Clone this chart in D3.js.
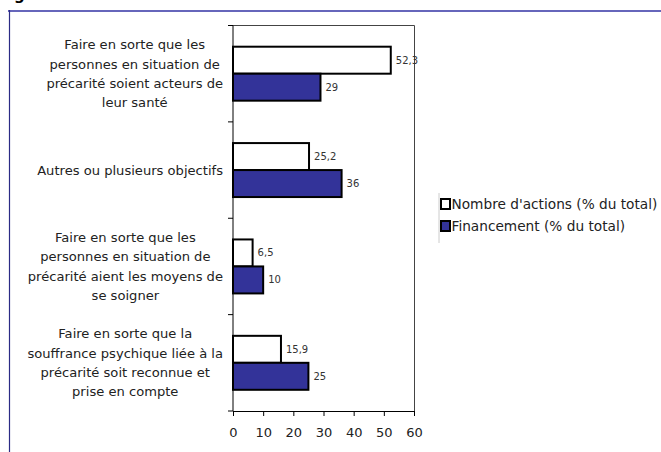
<!DOCTYPE html>
<html>
<head>
<meta charset="utf-8">
<script src="https://cdn.jsdelivr.net/npm/d3@7"></script>
<style>
  body { margin: 0; background: #fff; }
  svg { display: block; font-family: "DejaVu Sans", sans-serif; }
</style>
</head>
<body>
<svg id="chart" width="661" height="452"></svg>
<script>
// categories, top to bottom (label lines as wrapped in the original)
var categories = [
  ["Faire en sorte que les", "personnes en situation de", "précarité soient acteurs de", "leur santé"],
  ["Autres ou plusieurs objectifs"],
  ["Faire en sorte que les", "personnes en situation de", "précarité aient les moyens de", "se soigner"],
  ["Faire en sorte que la", "souffrance psychique liée à la", "précarité soit reconnue et", "prise en compte"]
];
var series = ["Nombre d'actions (% du total)", "Financement (% du total)"];
var actions = [52.3, 25.2, 6.5, 15.9];
var financement = [29, 36, 10, 25];
var xTicks = [0, 10, 20, 30, 40, 50, 60];

var colors = ["#ffffff", "#333399"];

var svg = d3.select("#chart");

// plot area edges (window.top is read-only, so no "top" here)
var plotL = 233, plotR = 414, plotT = 25.5, plotB = 411;

var x = d3.scaleLinear().domain([0, 60]).range([plotL, plotR]);
var y0 = d3.scaleBand().domain(d3.range(categories.length))
    .range([plotT, plotB]).paddingInner(0.44).paddingOuter(0.22);
var y1 = d3.scaleBand().domain(d3.range(series.length)).range([0, y0.bandwidth()]);

var fmt = function(v) { return String(v).replace(".", ","); };

// outer frame (cut from a larger page)
svg.append("text").attr("x", 14).attr("y", 0).attr("font-weight", "bold")
  .attr("font-size", 15).attr("fill", "#000").text("g");
svg.append("line").attr("x1", 8).attr("x2", 661).attr("y1", 11).attr("y2", 11)
  .attr("stroke", "#6666bb").attr("stroke-width", 2);
svg.append("line").attr("x1", 9.5).attr("x2", 9.5).attr("y1", 10).attr("y2", 452)
  .attr("stroke", "#2b2b85").attr("stroke-width", 1.2);

// plot frame
svg.append("path")
  .attr("d", "M" + plotL + "," + plotT + "H" + (plotR + 0.5) + "V" + plotB)
  .attr("fill", "none").attr("stroke", "#444").attr("stroke-width", 1);

// bars
var data = categories.map(function(c, i) { return [actions[i], financement[i]]; });
var g = svg.append("g").selectAll("g").data(data).enter().append("g")
  .attr("transform", function(d, i) { return "translate(0," + y0(i) + ")"; });

g.selectAll("rect").data(function(d) { return d; }).enter().append("rect")
  .attr("x", x(0))
  .attr("y", function(d, j) { return y1(j); })
  .attr("width", function(d) { return x(d) - x(0); })
  .attr("height", y1.bandwidth())
  .attr("fill", function(d, j) { return colors[j]; })
  .attr("stroke", "#000").attr("stroke-width", 2);

g.selectAll("text").data(function(d) { return d; }).enter().append("text")
  .attr("x", function(d) { return x(d) + 5; })
  .attr("y", function(d, j) { return y1(j) + y1.bandwidth() / 2; })
  .attr("dy", "0.35em")
  .attr("font-size", 10).attr("fill", "#333")
  .text(fmt);

// axes
var yTicks = d3.range(categories.length + 1).map(function(i) { return plotT + i * y0.step(); });
svg.append("line").attr("x1", plotL).attr("x2", plotL).attr("y1", plotT).attr("y2", plotB)
  .attr("stroke", "#000");
svg.append("g").selectAll("line").data(yTicks).enter().append("line")
  .attr("x1", plotL - 5).attr("x2", plotL)
  .attr("y1", function(d) { return d; }).attr("y2", function(d) { return d; })
  .attr("stroke", "#000");

var xAxis = svg.append("g").attr("transform", "translate(0," + plotB + ")")
  .call(d3.axisBottom(x).tickValues(xTicks).tickSize(5).tickSizeOuter(0));
xAxis.select(".domain").attr("stroke", "#000");
xAxis.selectAll("text").attr("font-size", 13).attr("font-family", "DejaVu Sans")
  .attr("fill", "#222").attr("dy", "1.4em");

// category labels: block right aligned, lines centred inside it
var lab = svg.append("g").attr("font-size", 13.1).attr("fill", "#222");
categories.forEach(function(lines, i) {
  var cy = y0(i) + y0.bandwidth() / 2;
  var lh = 19.4;
  var t = lab.append("g");
  var texts = t.selectAll("text").data(lines).enter().append("text")
    .attr("y", function(d, k) { return cy + (k - (lines.length - 1) / 2) * lh; })
    .attr("dy", "0.35em")
    .attr("text-anchor", "middle")
    .text(function(d) { return d; });
  var w = d3.max(texts.nodes(), function(n) { return n.getComputedTextLength(); });
  texts.attr("x", 223 - w / 2);
});

// legend
svg.append("line").attr("x1", 439).attr("x2", 439).attr("y1", 193).attr("y2", 243)
  .attr("stroke", "#ccc");
var leg = svg.append("g").selectAll("g").data(series).enter().append("g")
  .attr("transform", function(d, i) { return "translate(441," + (199 + i * 22) + ")"; });
leg.append("rect").attr("width", 9).attr("height", 10)
  .attr("fill", function(d, i) { return colors[i]; })
  .attr("stroke", "#000").attr("stroke-width", 2);
leg.append("text").attr("x", 10.5).attr("y", 5).attr("dy", "0.35em")
  .attr("font-size", 13.7).attr("fill", "#222")
  .text(function(d) { return d; });
</script>
</body>
</html>
